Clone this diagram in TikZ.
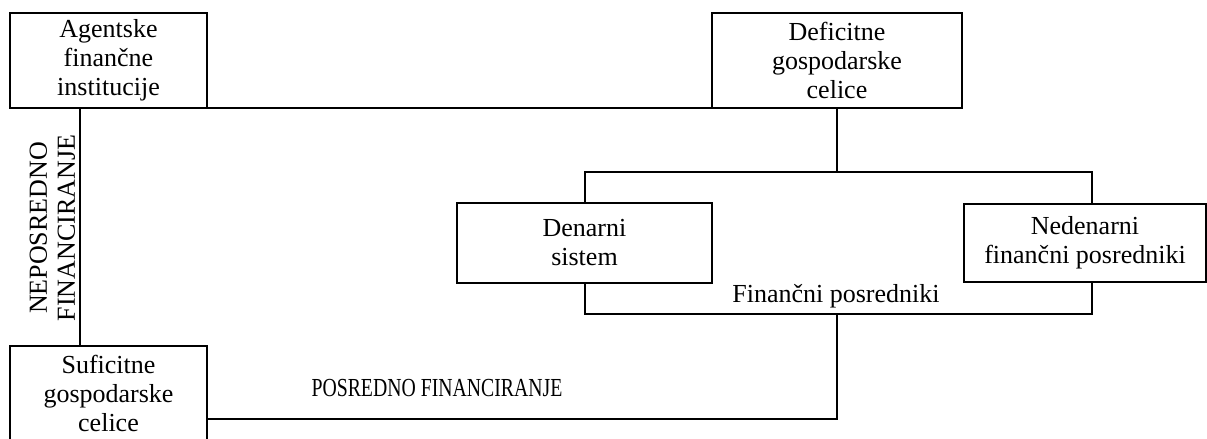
\documentclass[tikz,border=0pt]{standalone}
\usepackage{fontspec}
\setmainfont{Liberation Serif}
\usetikzlibrary{calc}
\begin{document}
\begin{tikzpicture}[x=0.5pt,y=-0.5pt,
  every node/.style={font=\fontsize{13}{14.5}\selectfont, inner sep=0pt, outer sep=0pt},
  box/.style={draw, line width=0.65pt, align=center, minimum width=#1},
  conn/.style={line width=0.65pt}]
\useasboundingbox (0,0) rectangle (1207,439);
\node[box=98.5pt, minimum height=47.5pt] (ag) at (108.5,60.5) {Agentske\\finančne\\institucije};
\node[box=125pt, minimum height=47.5pt] (def) at (837,60.5) {Deficitne\\gospodarske\\celice};
\node[box=127.5pt, minimum height=40pt] (den) at (584.5,243) {Denarni\\sistem};
\node[box=121pt, minimum height=39pt] (ned) at (1085,243) {Nedenarni\\finančni posredniki};
\node[box=98.5pt, minimum height=47.75pt] (suf) at (108.5,393.75) {Suficitne\\gospodarske\\celice};

\coordinate (agd) at ($(ag.south west)+(70,0)$);
\coordinate (tb) at (837,172);
\coordinate (tl) at (585,172);
\coordinate (tr) at (1092,172);
\coordinate (bl) at (585,314);
\coordinate (br) at (1092,314);
\coordinate (bm) at (837,314);
\coordinate (lo) at (837,419);

\draw[conn] (ag.south east) -- (def.south west);
\draw[conn] (agd) -- (agd |- suf.north);
\draw[conn] (def.south) -- (tb);
\draw[conn] (den.north -| tl) -- (tl) -- (tr) -- (tr |- ned.north);
\draw[conn] (den.south -| bl) -- (bl) -- (br) -- (br |- ned.south);
\draw[conn] (bm) -- (lo) -- (lo -| suf.east);

\node[anchor=base] (fp) at (836,302) {Finančni posredniki};
\node[anchor=base] (pf) at (437,396.7) {\scalebox{0.76}[1]{\fontsize{13}{14.5}\selectfont POSREDNO FINANCIRANJE}};
\node[rotate=90, align=center, font=\fontsize{13}{14}\selectfont] (nf) at (52.5,228) {NEPOSREDNO\\FINANCIRANJE};
\end{tikzpicture}
\end{document}
